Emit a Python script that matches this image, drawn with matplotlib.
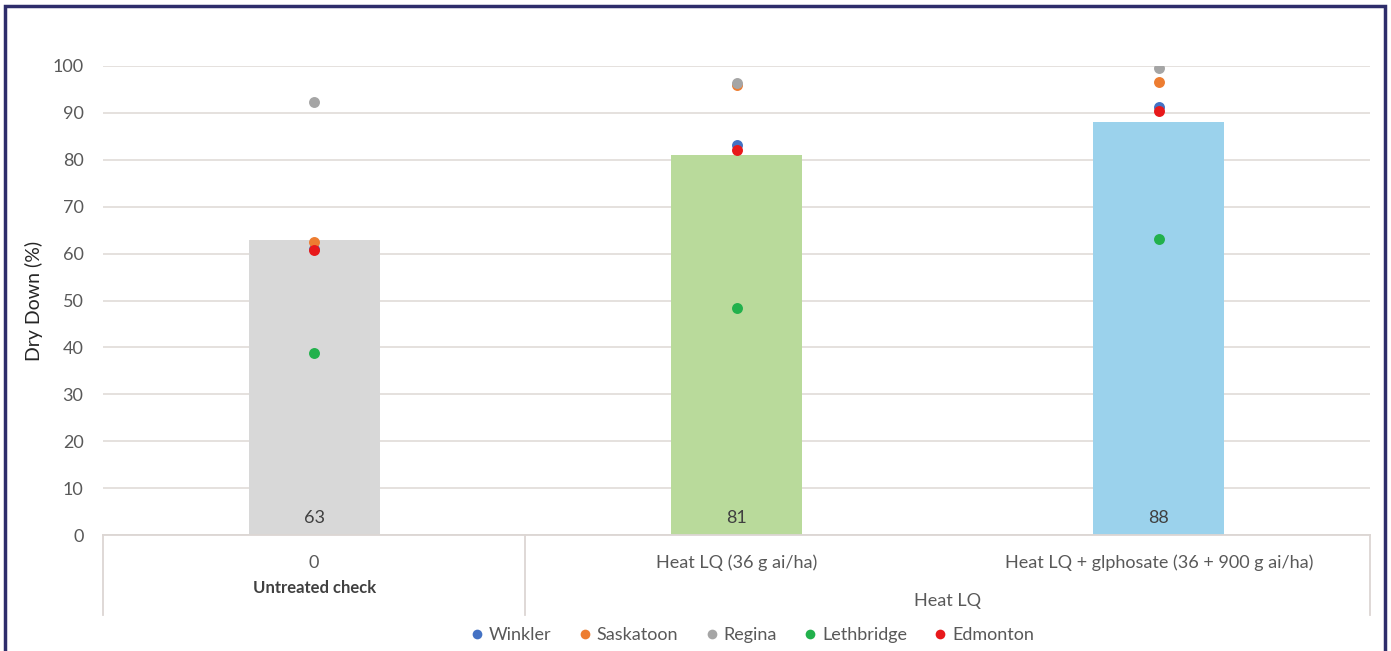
import matplotlib
matplotlib.use("Agg")
import matplotlib.pyplot as plt
import matplotlib.transforms as mtransforms
from matplotlib.patches import Rectangle
from matplotlib.lines import Line2D

plt.rcParams['font.family'] = ['Lato', 'DejaVu Sans']

# data
categories = ["0", "Heat LQ (36 g ai/ha)", "Heat LQ + glphosate (36 + 900 g ai/ha)"]
bar_values = [63, 81, 88]
bar_colors = ["#d8d8d8", "#b9da9b", "#9bd2ec"]

sites = ["Winkler", "Saskatoon", "Regina", "Lethbridge", "Edmonton"]
site_colors = ["#4472c4", "#ed7d31", "#a5a5a5", "#22b14c", "#e8191b"]
winkler = [61.0, 83.1, 91.3]
saskatoon = [62.4, 96.0, 96.5]
regina = [92.3, 96.4, 99.6]
lethbridge = [38.8, 48.4, 63.1]
edmonton = [60.7, 82.0, 90.5]
site_values = [winkler, saskatoon, regina, lethbridge, edmonton]

text_col = "#595959"
grid_col = "#e3dedb"

fig = plt.figure(figsize=(13.91, 6.51), dpi=100)
ax = fig.add_axes([103/1391, 116/651, 1267/1391, 469/651])

x = list(range(len(categories)))
ax.bar(x, bar_values, width=0.31, color=bar_colors, zorder=2)
for xi, v in zip(x, bar_values):
    ax.annotate(str(v), (xi, 0), xytext=(0, 12), textcoords="offset points",
                ha="center", va="center", fontsize=13, color="#404040", zorder=3)

for name, col, vals in zip(sites, site_colors, site_values):
    ax.scatter(x, vals, s=62, color=col, zorder=4, label=name, linewidths=0)

ax.set_xlim(-0.5, 2.5)
ax.set_ylim(0, 100)
ax.set_yticks(range(0, 101, 10))
ax.yaxis.grid(True, color=grid_col, linewidth=1.3, zorder=0)
ax.set_axisbelow(True)
ax.tick_params(axis="y", length=0, pad=14, labelsize=13, labelcolor=text_col)
ax.set_xticks([])
for s in ["top", "right", "left"]:
    ax.spines[s].set_visible(False)
ax.spines["bottom"].set_color("#dcd6d3")
ax.spines["bottom"].set_linewidth(1.3)

ax.set_ylabel("Dry Down (%)", fontsize=14, color="#262626")
ax.yaxis.set_label_coords(-0.047, 0.5)

# multi-level category axis
trans = mtransforms.blended_transform_factory(ax.transData, ax.transAxes)
for xi, lab in zip(x, categories):
    ax.text(xi, -0.06, lab, transform=trans, ha="center", va="center",
            fontsize=13, color=text_col)
ax.text(0, -0.113, "Untreated check", transform=trans, ha="center", va="center",
        fontsize=12, fontweight="bold", color="#404040")
ax.text(1.5, -0.141, "Heat LQ", transform=trans, ha="center", va="center",
        fontsize=13, color=text_col)
for xs in [-0.5, 0.5, 2.5]:
    ax.plot([xs, xs], [0, -0.171], transform=trans, color="#dcd6d3",
            linewidth=1.3, clip_on=False)

handles = [Line2D([], [], marker="o", linestyle="", markersize=7, color=c,
                  markeredgewidth=0) for c in site_colors]
fig.legend(handles, sites, loc="center", bbox_to_anchor=(0.541, 0.024), ncol=5,
           frameon=False, fontsize=13, handlelength=0.7, handletextpad=0.3,
           columnspacing=1.5, labelcolor=text_col)

# dark frame round the figure
fig.patches.append(Rectangle((5/1391, -0.02), 1380/1391, 645/651 + 0.02,
                             transform=fig.transFigure, fill=False,
                             edgecolor="#2e2d6b", linewidth=2.5))

fig.savefig("out.png", dpi=100)
